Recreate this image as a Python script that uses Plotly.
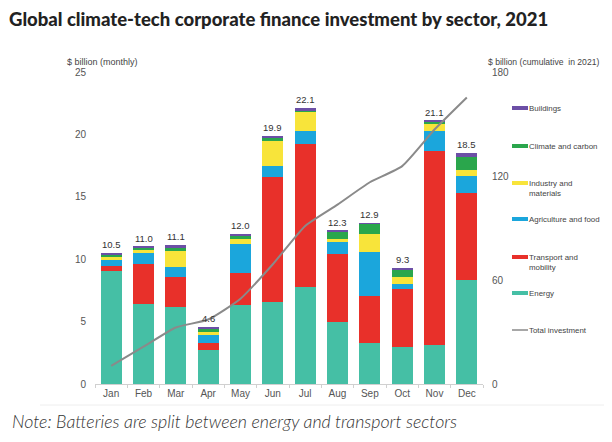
import plotly.graph_objects as go

# --- données ($ milliards, mensuel) ---
months = ["Jan", "Feb", "Mar", "Apr", "May", "Jun",
          "Jul", "Aug", "Sep", "Oct", "Nov", "Dec"]

energy      = [9.05, 6.45, 6.2, 2.7, 6.3, 6.6, 7.8, 5.0, 3.25, 3.0, 3.1, 8.3]
transport   = [0.4, 3.2, 2.4, 0.55, 2.6, 10.0, 11.4, 5.4, 3.8, 4.6, 15.6, 7.0]
agriculture = [0.55, 0.85, 0.8, 0.65, 2.35, 0.85, 1.05, 1.0, 3.55, 0.45, 1.6, 1.4]
industry    = [0.15, 0.2, 1.25, 0.3, 0.4, 2.0, 1.55, 0.25, 1.4, 0.55, 0.5, 0.45]
climate     = [0.25, 0.2, 0.3, 0.2, 0.25, 0.3, 0.15, 0.6, 0.85, 0.55, 0.2, 1.05]
buildings   = [0.1, 0.1, 0.15, 0.2, 0.1, 0.15, 0.15, 0.05, 0.05, 0.15, 0.1, 0.3]

totals     = [10.5, 11.0, 11.1, 4.6, 12.0, 19.9, 22.1, 12.3, 12.9, 9.3, 21.1, 18.5]
cumulative = [10.5, 21.5, 32.6, 37.2, 49.2, 69.1, 91.2, 103.5, 116.4, 125.7, 146.8, 165.3]

colors = {
    "Energy": "#45bfa5",
    "Transport and mobility": "#e8302a",
    "Agriculture and food": "#1ba6dc",
    "Industry and materials": "#f8e43a",
    "Climate and carbon": "#2aa64c",
    "Buildings": "#6c4fa6",
    "Total investment": "#8a8a8a",
}

sectors = [
    ("Energy", energy),
    ("Transport and mobility", transport),
    ("Agriculture and food", agriculture),
    ("Industry and materials", industry),
    ("Climate and carbon", climate),
    ("Buildings", buildings),
]

# la page ajoute une marge de 8 px autour de la figure :
# on travaille en pixels de la capture (fenêtre 612x442)
OFF = 8
SW, SH = 612, 442
PX0, PX1, PY0, PY1 = 95, 483, 72, 384     # zone de tracé dans la capture
W, H = SW - 2 * OFF, SH - 2 * OFF          # pas de débordement -> pas de barres de défilement
L, R = PX0 - OFF, W - (PX1 - OFF)
T, B = PY0 - OFF, H - (PY1 - OFF)


def px_x(x):
    return (x - PX0) / (PX1 - PX0)


def px_y(y):
    return (PY1 - y) / (PY1 - PY0)


tick_font = dict(family="Liberation Sans, Arial", size=10, color="#555555")
small_font = dict(family="Liberation Sans, Arial", size=7.9, color="#444444")

fig = go.Figure()

for name, vals in sectors:
    fig.add_trace(go.Bar(
        x=months, y=vals, name=name,
        marker=dict(color=colors[name], line=dict(width=0)),
        showlegend=False,
    ))

fig.add_trace(go.Scatter(
    x=months, y=cumulative, yaxis="y2", mode="lines",
    line=dict(color=colors["Total investment"], width=2,
              shape="spline", smoothing=0.5),
    name="Total investment", showlegend=False,
))

annotations = []
# étiquettes des totaux
for m, t in zip(months, totals):
    annotations.append(dict(
        x=m, y=t, text=f"{t:.1f}", showarrow=False, yanchor="bottom",
        yshift=1, font=dict(family="Liberation Sans, Arial", size=9.5, color="#333333"),
    ))

# titres des axes
annotations.append(dict(
    x=px_x(65), y=px_y(55), xref="paper", yref="paper", xanchor="left",
    text="$ billion (monthly)", showarrow=False,
    font=dict(family="Liberation Sans, Arial", size=9, color="#444444"),
))
annotations.append(dict(
    x=px_x(486), y=px_y(55), xref="paper", yref="paper", xanchor="left",
    text="$ billion (cumulative  in 2021)", showarrow=False,
    font=dict(family="Liberation Sans, Arial", size=8.6, color="#444444"),
))

# légende personnalisée (trait court + texte)
shapes = []
legend_items = [
    ("Buildings", 108, 4),
    ("Climate and carbon", 146, 4),
    ("Industry and materials", 183, 4),
    ("Agriculture and food", 219, 4),
    ("Transport and mobility", 257, 4),
    ("Energy", 293, 4),
    ("Total investment", 330, 1.5),
]
for label, ypx, lw in legend_items:
    shapes.append(dict(
        type="line", xref="paper", yref="paper",
        x0=px_x(512), x1=px_x(528), y0=px_y(ypx), y1=px_y(ypx),
        line=dict(color=colors[label], width=lw),
    ))
    text = label
    if label in ("Industry and materials", "Transport and mobility"):
        text = label.replace(" and ", " and<br>")
    nlines = text.count("<br>")
    annotations.append(dict(
        x=px_x(527), y=px_y(ypx), xref="paper", yref="paper",
        xanchor="left", yanchor="middle", align="left",
        yshift=-5.5 * nlines,
        text=text, showarrow=False, font=small_font,
    ))

# ligne de séparation et note
shapes.append(dict(
    type="line", xref="paper", yref="paper",
    x0=px_x(40), x1=px_x(612), y0=px_y(405), y1=px_y(405),
    line=dict(color="#eeeeee", width=1),
))
annotations.append(dict(
    x=px_x(10), y=px_y(421), xref="paper", yref="paper",
    xanchor="left", yanchor="middle",
    text="<i>Note: Batteries are split between energy and transport sectors</i>",
    showarrow=False,
    font=dict(family="Lato", size=17.8, color="#333333", weight=300),
))
annotations.append(dict(
    x=px_x(7), y=px_y(19), xref="paper", yref="paper",
    xanchor="left", yanchor="middle",
    text="Global climate-tech corporate finance investment by sector, 2021",
    showarrow=False,
    font=dict(family="Lato", size=18.5, color="#222222", weight=900),
))

fig.update_layout(
    width=W, height=H,
    margin=dict(l=L, r=R, t=T, b=B),
    barmode="stack", bargap=0.36,
    plot_bgcolor="white", paper_bgcolor="white",
    xaxis=dict(
        showgrid=False, showline=True, linecolor="#d0d0d0", linewidth=1,
        ticks="outside", tickson="boundaries", ticklen=3, tickcolor="#d0d0d0",
        tickfont=tick_font, fixedrange=True,
    ),
    yaxis=dict(
        range=[0, 25], tickvals=[0, 5, 10, 15, 20, 25],
        showgrid=False, zeroline=False, showline=False,
        tickfont=tick_font, ticklabelstandoff=8,
    ),
    yaxis2=dict(
        range=[0, 180], tickvals=[0, 60, 120, 180],
        overlaying="y", side="right",
        showgrid=False, zeroline=False, showline=False,
        tickfont=tick_font, ticklabelstandoff=8,
    ),
    annotations=annotations,
    shapes=shapes,
    showlegend=False,
)

fig.write_html("out.html")
